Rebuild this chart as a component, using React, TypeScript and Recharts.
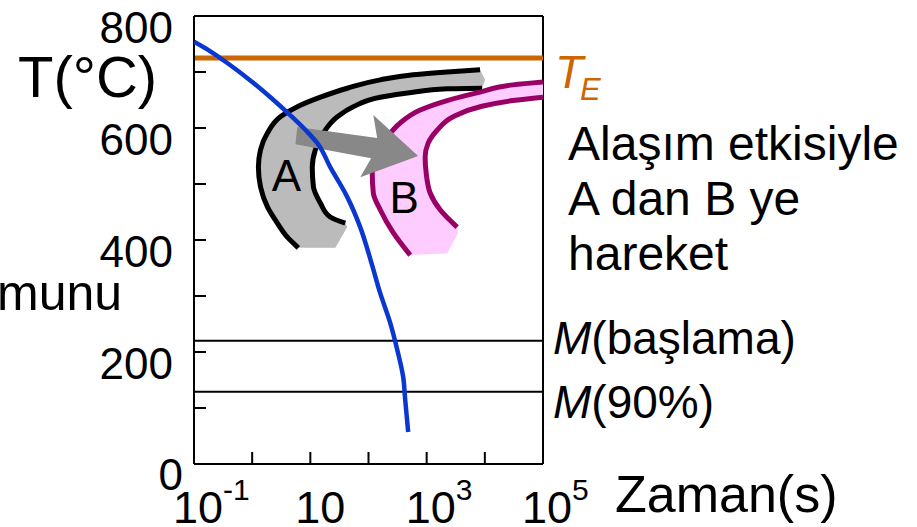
import React from 'react';
import { ComposedChart, Scatter, XAxis, YAxis, ReferenceLine } from 'recharts';

type Pt = [number, number];

// [time (s), temperature (°C)]
const coolingCurve: Pt[] = [
  [0.1, 754], [0.177, 739], [0.32, 721], [0.83, 689], [2.06, 655], [4.5, 623],
  [8.9, 593], [13.2, 573], [22, 530], [43, 477], [72, 423], [111, 361],
  [159, 305], [236, 252], [312, 204], [395, 155], [428, 114], [481, 57],
];

const curveAOuter: Pt[] = [
  [8280, 704], [2249, 700], [586, 695], [159, 686], [43.2, 671], [14.9, 655],
  [5.98, 638], [3.05, 620], [1.83, 591], [1.39, 561], [1.28, 530], [1.39, 495],
  [1.83, 459], [2.71, 430], [4.03, 405], [6.22, 386],
];
const curveAInner: Pt[] = [
  [8970, 671], [2249, 670], [586, 664], [159, 655], [54.7, 638], [29.1, 620],
  [16.7, 591], [12.2, 561], [10.8, 530], [11.3, 495], [14.9, 466], [22, 441],
  [39.9, 430],
];
const bandABottom: Pt[] = [[26.9, 386], [43.2, 423]];
const bandATip: Pt[] = [[10100, 686]];

const curveBOuter: Pt[] = [
  [100000, 682], [30550, 677], [8280, 664], [2249, 649], [773, 632], [351, 609],
  [210, 584], [141, 555], [116, 520], [121, 484], [159, 454], [266, 413], [521, 373],
];
const curveBInner: Pt[] = [
  [100000, 655], [30550, 649], [8280, 638], [2851, 620], [1514, 596], [1061, 573],
  [942, 548], [980, 520], [1148, 484], [1706, 454], [3342, 423],
];
const bandBBottom: Pt[] = [[2249, 376], [3475, 412]];

const shiftArrow: Pt[] = [
  [5.98, 602], [141, 582], [121, 623], [714, 550], [72.1, 512], [111, 546], [5.53, 571],
];

const regionLabels = [
  { t: 3.87, T: 516, text: 'A' },
  { t: 411, T: 477, text: 'B' },
];

const eutectoidT = 725;
const martensiteStartT = 220;
const martensite90T = 129;

const xDomain: Pt = [0.1, 100000];
const yDomain: Pt = [0, 800];
const xTicks = [0.1, 1, 10, 100, 1000, 10000, 100000];
const xLabelExponents = [-1, 1, 3, 5];
const yTicks = [0, 100, 200, 300, 400, 500, 600, 700, 800];
const yLabelValues = [0, 200, 400, 600, 800];

const noteLines = ['Alaşım etkisiyle', 'A dan B ye', 'hareket'];

const FONT = '"Liberation Sans", Arial, Helvetica, sans-serif';
const ORANGE = '#CC6600';
const PURPLE = '#990066';
const PINK = '#FFCCFF';
const GRAY = '#BBBBBB';
const ARROW = '#888888';
const BLUE = '#0A37D0';

const toData = (pts: Pt[]) => pts.map(([t, T]) => ({ t, T }));
const bandA: Pt[] = [...curveAOuter, ...bandABottom, ...[...curveAInner].reverse(), ...bandATip];
const bandB: Pt[] = [...curveBOuter, ...bandBBottom, ...[...curveBInner].reverse()];

const NoShape = () => <g />;

const renderXTick = (props: any) => {
  const { x, y, payload } = props;
  const v = payload.value;
  const exp = Math.round(Math.log10(v));
  const showMark = v > xDomain[0] && v < xDomain[1];
  const showLabel = xLabelExponents.includes(exp);
  return (
    <g>
      {showMark && <line x1={x} y1={y} x2={x} y2={y - 12} stroke="#000" strokeWidth={2} />}
      {showLabel && (
        <text x={exp === 1 ? x - 15 : x - 21} y={y + 59} fontSize={45} fontFamily={FONT} fill="#000">
          10{exp !== 1 && <tspan dy={-23} fontSize={30}>{String(exp)}</tspan>}
        </text>
      )}
    </g>
  );
};

const renderYTick = (props: any) => {
  const { x, y, payload } = props;
  const v = payload.value;
  const showMark = v > yDomain[0] && v < yDomain[1];
  const showLabel = yLabelValues.includes(v);
  const isZero = v === 0;
  return (
    <g>
      {showMark && <line x1={x} y1={y} x2={x + 12} y2={y} stroke="#000" strokeWidth={2} />}
      {showLabel && (
        <text x={isZero ? x - 11 : x - 21} y={y + (isZero ? 26 : 27)} textAnchor="end" fontSize={44} fontFamily={FONT} fill="#000">
          {v}
        </text>
      )}
    </g>
  );
};

const renderXLabel = (props: any) => {
  const { x, y, width } = props.viewBox;
  return (
    <text x={x + width + 72} y={y + 48} fontSize={52} fontFamily={FONT} fill="#000">Zaman(s)</text>
  );
};

const renderYLabel = (props: any) => {
  const { x, y } = props.viewBox;
  return (
    <g>
      <text x={x - 136} y={y + 81} fontSize={58} fontFamily={FONT} fill="#000">T(°C)</text>
      <text x={x - 157} y={y + 294} fontSize={50} fontFamily={FONT} fill="#000">munu</text>
    </g>
  );
};

const teLabel = (props: any) => {
  const { x, y, width } = props.viewBox;
  const right = x + width;
  return (
    <g>
      <text x={right + 12} y={y + 30} fill={ORANGE} fontSize={46} fontStyle="italic" fontFamily={FONT}>T</text>
      <text x={right + 37} y={y + 42} fill={ORANGE} fontSize={31} fontStyle="italic" fontFamily={FONT}>E</text>
      {noteLines.map((line, i) => (
        <text key={line} x={right + 25} y={y + 102 + i * 55} fontSize={48} fontFamily={FONT} fill="#000">{line}</text>
      ))}
    </g>
  );
};

const mLabel = (suffix: string, dy: number) => (props: any) => {
  const { x, y, width } = props.viewBox;
  return (
    <text x={x + width + 10} y={y + dy} fontSize={46} fontFamily={FONT} fill="#000">
      <tspan fontStyle="italic">M</tspan>{suffix}
    </text>
  );
};

const renderRegionLabel = (p: any) => (
  <text x={p.cx} y={p.cy + 16} textAnchor="middle" fontSize={44} fontFamily={FONT} fill="#000">
    {p.payload.text}
  </text>
);

export default function App() {
  return (
    <div style={{ position: 'absolute', left: 0, top: 0, width: 917, height: 527, background: '#fff' }}>
      <ComposedChart width={917} height={527} margin={{ top: 16, right: 374, bottom: 23, left: 154 }}>
        <XAxis
          dataKey="t"
          type="number"
          scale="log"
          domain={xDomain}
          ticks={xTicks}
          interval={0}
          height={40}
          allowDataOverflow
          axisLine={{ stroke: '#000', strokeWidth: 2 }}
          tickLine={false}
          tickSize={0}
          tickMargin={0}
          tick={renderXTick}
          label={renderXLabel}
        />
        <YAxis
          dataKey="T"
          type="number"
          domain={yDomain}
          ticks={yTicks}
          interval={0}
          width={40}
          allowDataOverflow
          axisLine={{ stroke: '#000', strokeWidth: 2 }}
          tickLine={false}
          tickSize={0}
          tickMargin={0}
          tick={renderYTick}
          label={renderYLabel}
        />
        <ReferenceLine y={yDomain[1]} stroke="#000" strokeWidth={2} />
        <ReferenceLine x={xDomain[1]} stroke="#000" strokeWidth={2} />
        <ReferenceLine y={eutectoidT} stroke={ORANGE} strokeWidth={5} label={teLabel} />
        <ReferenceLine y={martensiteStartT} stroke="#000" strokeWidth={2} label={mLabel('(başlama)', 13)} />
        <ReferenceLine y={martensite90T} stroke="#000" strokeWidth={2} label={mLabel('(90%)', 26)} />

        <Scatter data={toData(bandA)} shape={NoShape} line={{ fill: GRAY, stroke: 'none' }} lineJointType="linearClosed" isAnimationActive={false} />
        <Scatter data={toData(curveAOuter)} shape={NoShape} line={{ stroke: '#000', strokeWidth: 5, fill: 'none' }} lineJointType="monotoneY" isAnimationActive={false} />
        <Scatter data={toData(curveAInner)} shape={NoShape} line={{ stroke: '#000', strokeWidth: 5, fill: 'none' }} lineJointType="monotoneY" isAnimationActive={false} />
        <Scatter data={toData(bandB)} shape={NoShape} line={{ fill: PINK, stroke: 'none' }} lineJointType="linearClosed" isAnimationActive={false} />
        <Scatter data={toData(curveBOuter)} shape={NoShape} line={{ stroke: PURPLE, strokeWidth: 5, fill: 'none' }} lineJointType="monotoneY" isAnimationActive={false} />
        <Scatter data={toData(curveBInner)} shape={NoShape} line={{ stroke: PURPLE, strokeWidth: 5, fill: 'none' }} lineJointType="monotoneY" isAnimationActive={false} />
        <Scatter data={toData(shiftArrow)} shape={NoShape} line={{ fill: ARROW, stroke: 'none' }} lineJointType="linearClosed" isAnimationActive={false} />
        <Scatter data={regionLabels} shape={renderRegionLabel} isAnimationActive={false} />
        <Scatter data={toData(coolingCurve)} shape={NoShape} line={{ stroke: BLUE, strokeWidth: 4.5, fill: 'none' }} lineJointType="monotoneY" isAnimationActive={false} />
      </ComposedChart>
    </div>
  );
}
